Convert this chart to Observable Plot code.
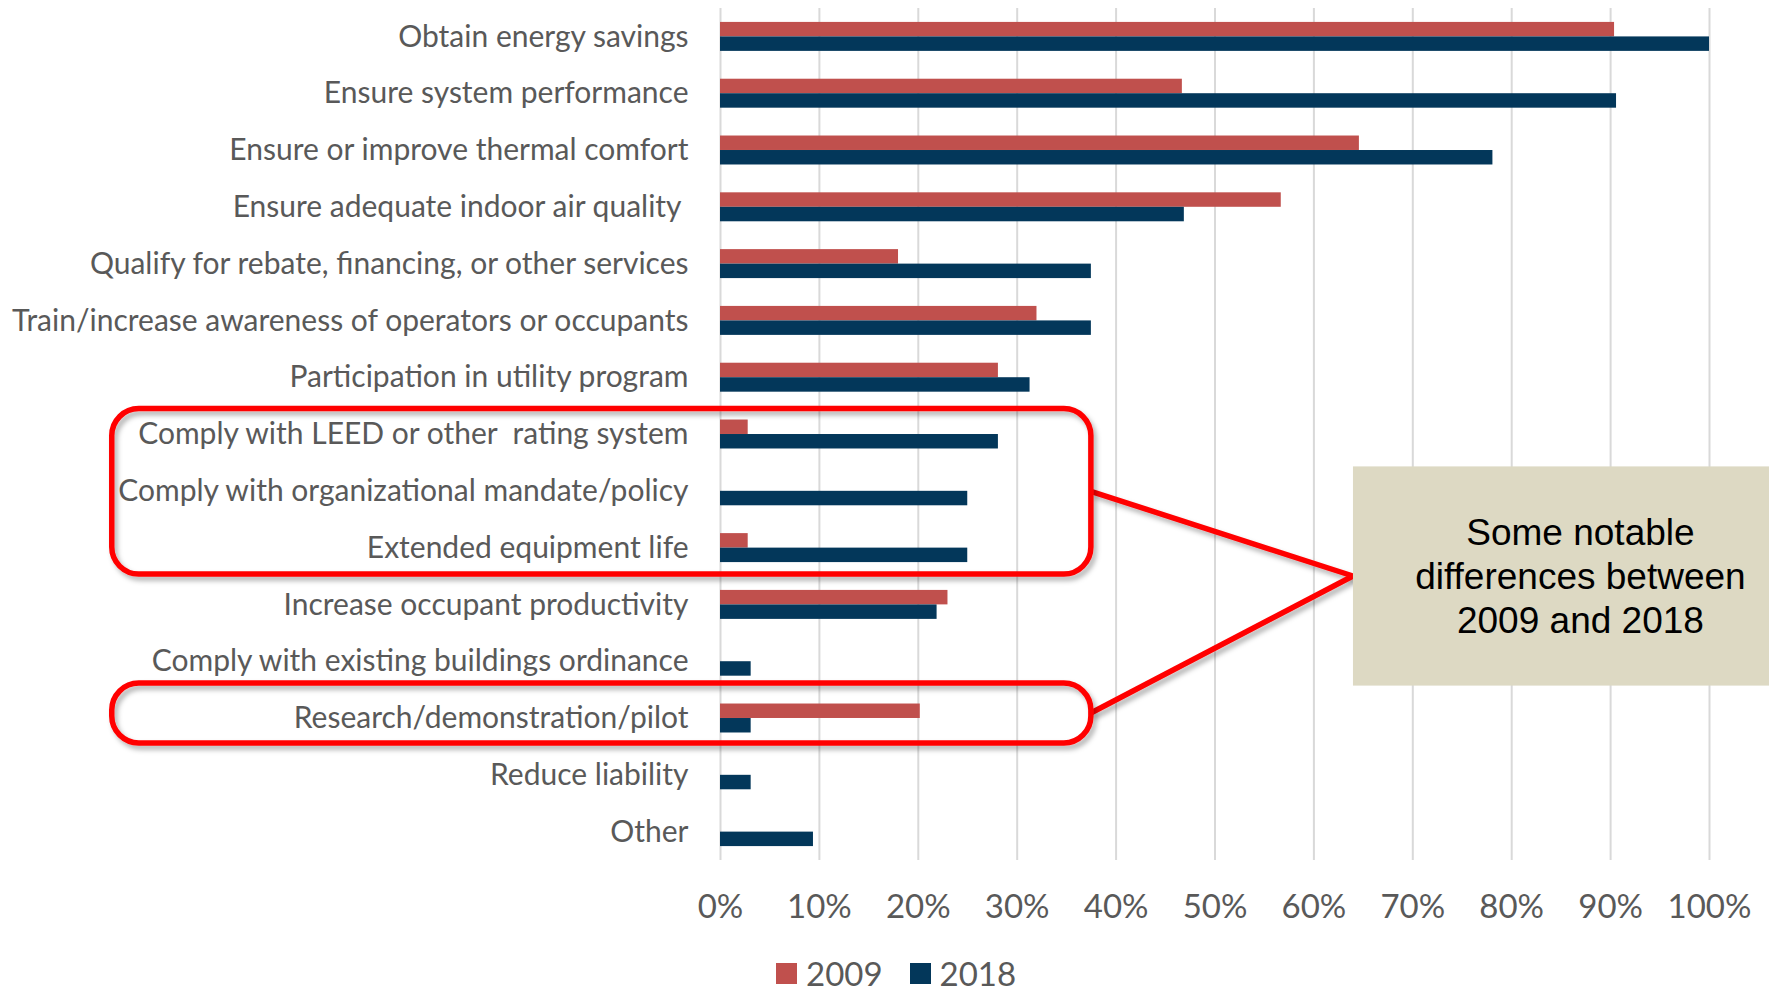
<!DOCTYPE html>
<html><head><meta charset="utf-8">
<script src="https://cdn.jsdelivr.net/npm/d3@7"></script>
<script src="https://cdn.jsdelivr.net/npm/@observablehq/plot@0.6"></script>
<style>
html,body{margin:0;padding:0;background:#fff;overflow:hidden;}
#chart svg text{white-space:pre;}
.legend{position:absolute;left:0;top:955px;display:flex;align-items:center;height:36px;line-height:36px;padding-left:776px;font-family:Lato,sans-serif;font-size:33px;color:#595959;}
.sw{width:21px;height:21px;margin-right:9px;}
.item{display:flex;align-items:center;margin-right:27px;}
</style></head><body>
<div id="chart"></div>
<div class="legend" id="legend"></div>
<script>
const categories = [
  "Obtain energy savings",
  "Ensure system performance",
  "Ensure or improve thermal comfort",
  "Ensure adequate indoor air quality ",
  "Qualify for rebate, financing, or other services",
  "Train/increase awareness of operators or occupants",
  "Participation in utility program",
  "Comply with LEED or other  rating system",
  "Comply with organizational mandate/policy",
  "Extended equipment life",
  "Increase occupant productivity",
  "Comply with existing buildings ordinance",
  "Research/demonstration/pilot",
  "Reduce liability",
  "Other"
];
const values2009 = [90.4, 46.7, 64.6, 56.7, 18.0, 32.0, 28.1, 2.8, 0, 2.8, 23.0, 0, 20.2, 0, 0];
const values2018 = [100, 90.6, 78.1, 46.9, 37.5, 37.5, 31.3, 28.1, 25.0, 25.0, 21.9, 3.1, 3.1, 3.1, 9.4];
const xTicks = [0, 10, 20, 30, 40, 50, 60, 70, 80, 90, 100];
const seriesNames = ["2009", "2018"];
const seriesColors = ["#C0504D", "#03375A"];
const highlightGroups = [
  ["Comply with LEED or other  rating system", "Extended equipment life"],
  ["Research/demonstration/pilot", "Research/demonstration/pilot"]
];
const highlightLeft = -61.5, highlightRight = 37.5;
const noteRows = ["Comply with organizational mandate/policy", "Comply with existing buildings ordinance"];
const noteLeft = 64, noteRight = 110;
const noteLines = ["Some notable", "differences between", "2009 and 2018"];

const rows = categories.flatMap((c, i) => [
  {category: c, series: seriesNames[0], value: values2009[i]},
  {category: c, series: seriesNames[1], value: values2018[i]}
]);

const half = 14.5;
const plot = Plot.plot({
  width: 1769, height: 940,
  marginLeft: 720, marginRight: 60, marginTop: 8, marginBottom: 80,
  style: {fontFamily: "Lato, sans-serif", color: "#595959", background: "transparent"},
  x: {domain: [0, 100], ticks: xTicks, tickFormat: d => d + "%", tickSize: 0, tickPadding: 34, label: null},
  y: {domain: categories, paddingInner: 0.49, paddingOuter: 0.245, round: false, tickSize: 0, tickPadding: 32, label: null},
  marks: [
    Plot.ruleX(xTicks, {stroke: "#D9D9D9", strokeWidth: 2}),
    Plot.barX(rows.filter(d => d.series === seriesNames[0]), {y: "category", x: "value", fill: seriesColors[0], insetBottom: half}),
    Plot.barX(rows.filter(d => d.series === seriesNames[1]), {y: "category", x: "value", fill: seriesColors[1], insetTop: half})
  ]
});
document.getElementById("chart").appendChild(plot);

const svg = d3.select(plot);
svg.selectAll('g[aria-label^="x-axis"] text').style("font-size", "33px").style("fill", "#595959");
svg.selectAll('g[aria-label^="y-axis"] text').style("font-size", "30px").style("fill", "#595959");

// annotations via the plot's scales
const ys = plot.scale("y"), xs = plot.scale("x");
const y = d3.scaleBand().domain(ys.domain).range(ys.range)
  .paddingInner(ys.paddingInner).paddingOuter(ys.paddingOuter).align(ys.align ?? 0.5);
const x = d3.scaleLinear().domain(xs.domain).range(xs.range);
const step = y.step();
const rowTop = c => y(c) + y.bandwidth() / 2 - step / 2;
const rowBot = c => y(c) + y.bandwidth() / 2 + step / 2;

const defs = svg.append("defs");
const f = defs.append("filter").attr("id", "shadow").attr("x", "-10%").attr("y", "-20%").attr("width", "130%").attr("height", "160%");
f.append("feDropShadow").attr("dx", 3).attr("dy", 4).attr("stdDeviation", 2.5).attr("flood-color", "#000").attr("flood-opacity", 0.3);

const insets = [[3, 2], [-6.5, 3.5]];
const ann = svg.append("g");
const nx1 = x(noteLeft), nx2 = x(noteRight);
const ny1 = rowTop(noteRows[0]) + 4, ny2 = rowBot(noteRows[1]) - 4;
const apexY = (ny1 + ny2) / 2;
highlightGroups.forEach(([a, b], i) => {
  const y1 = rowTop(a) + insets[i][0], y2 = rowBot(b) - insets[i][1];
  ann.append("line").attr("x1", x(highlightRight)).attr("y1", (y1 + y2) / 2)
    .attr("x2", nx1).attr("y2", apexY)
    .attr("stroke", "#FF0000").attr("stroke-width", 5.5).attr("filter", "url(#shadow)");
  ann.append("rect").attr("x", x(highlightLeft)).attr("y", y1)
    .attr("width", x(highlightRight) - x(highlightLeft)).attr("height", y2 - y1)
    .attr("rx", 27).attr("fill", "none").attr("stroke", "#FF0000").attr("stroke-width", 5.5)
    .attr("filter", "url(#shadow)");
});
ann.append("rect").attr("x", nx1).attr("y", ny1).attr("width", nx2 - nx1).attr("height", ny2 - ny1).attr("fill", "#DDD9C3");
ann.append("text").attr("text-anchor", "middle").attr("font-family", "'Liberation Sans', Arial, sans-serif")
  .attr("font-size", 37).attr("fill", "#000")
  .selectAll("tspan").data(noteLines).join("tspan")
  .attr("x", (nx1 + nx2) / 2).attr("y", (d, i) => apexY + (i - 1) * 44).attr("dy", "0.35em").text(d => d);

// legend
const lg = d3.select("#legend");
seriesNames.forEach((s, i) => {
  const it = lg.append("div").attr("class", "item");
  it.append("div").attr("class", "sw").style("background", seriesColors[i]);
  it.append("span").text(s);
});
</script>
</body></html>
